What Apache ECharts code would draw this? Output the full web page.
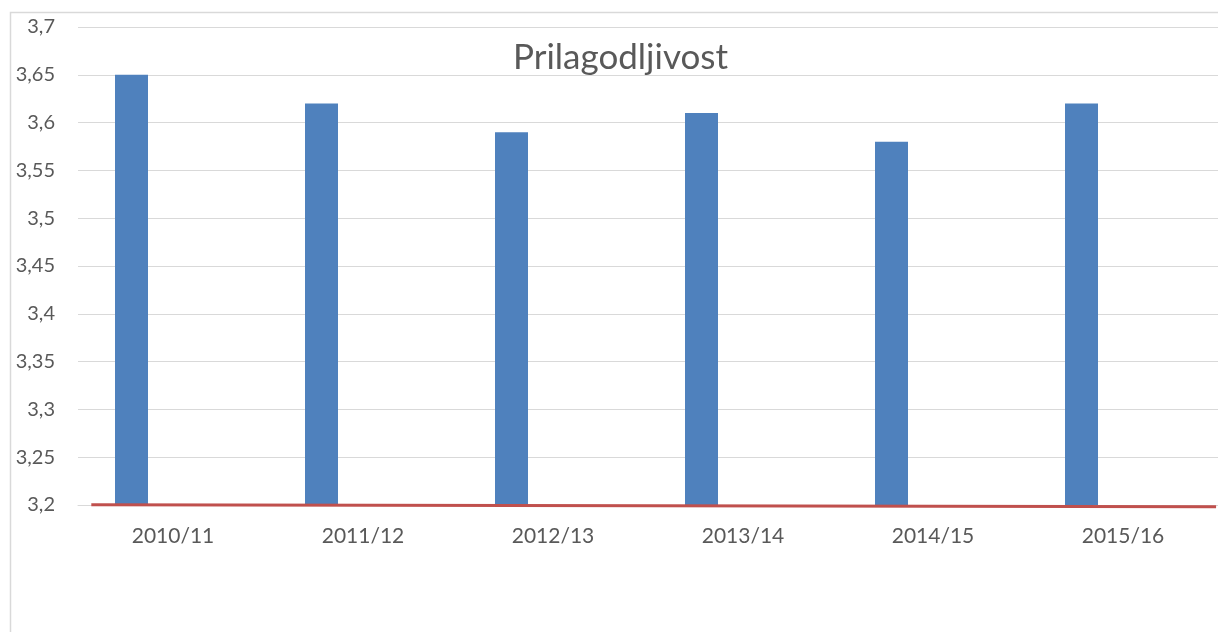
<!DOCTYPE html>
<html>
<head>
<meta charset="utf-8">
<script src="https://cdn.jsdelivr.net/npm/echarts@6/dist/echarts.min.js"></script>
<style>
html,body{margin:0;padding:0;background:#fff;}
#chart{width:1218px;height:632px;}
</style>
</head>
<body>
<div id="chart"></div>
<script>
const titleText = 'Prilagodljivost';
const categories = ['2010/11','2011/12','2012/13','2013/14','2014/15','2015/16'];
const values = [3.65, 3.62, 3.59, 3.61, 3.58, 3.62];
const ghostValues = [null, null, null, null, null, null];
// red reference line: [category position, value]
const redLine = [[-0.43, 3.2003], [5.49, 3.1982]];
const yMin = 3.2, yMax = 3.7, yStep = 0.05;

const chart = echarts.init(document.getElementById('chart'));
const txt = '#595959';
chart.setOption({
  animation: false,
  backgroundColor: '#fff',
  textStyle: { fontFamily: 'Lato' },
  title: {
    text: titleText, top: 35, left: 508,
    textStyle: { fontFamily: 'Lato', fontSize: 35, fontWeight: 'normal', color: txt }
  },
  graphic: [{
    type: 'polyline', silent: true,
    shape: { points: [[10.5, 640], [10.5, 12.5], [1230, 12.5]] },
    style: { stroke: '#d9d9d9', lineWidth: 1.5, fill: null }
  }],
  grid: { left: 78, right: 0, top: 27, bottom: 127 },
  xAxis: [{
    type: 'category', data: categories,
    axisLine: { show: true, lineStyle: { color: '#d9d9d9', width: 1 } },
    axisTick: { show: false },
    axisLabel: { color: txt, fontSize: 21, fontFamily: 'Lato', margin: 21 }
  }, {
    type: 'value', min: -0.5, max: 5.5, show: false
  }],
  yAxis: {
    type: 'value', min: yMin, max: yMax, interval: yStep,
    axisLine: { show: false }, axisTick: { show: false },
    axisLabel: {
      color: txt, fontSize: 20, fontFamily: 'Lato', margin: 23,
      formatter: v => String(Number(v.toFixed(2))).replace('.', ',')
    },
    splitLine: { lineStyle: { color: '#d9d9d9', width: 1 } }
  },
  series: [{
    type: 'bar', data: values, barWidth: 33, barGap: '151.5%',
    itemStyle: { color: '#4f81bd' }
  }, {
    type: 'bar', data: ghostValues, barWidth: 33
  }, {
    type: 'line', xAxisIndex: 1, data: redLine, symbol: 'none', clip: false,
    lineStyle: { color: '#c0504d', width: 3 }, z: 5
  }]
});
</script>
</body>
</html>
